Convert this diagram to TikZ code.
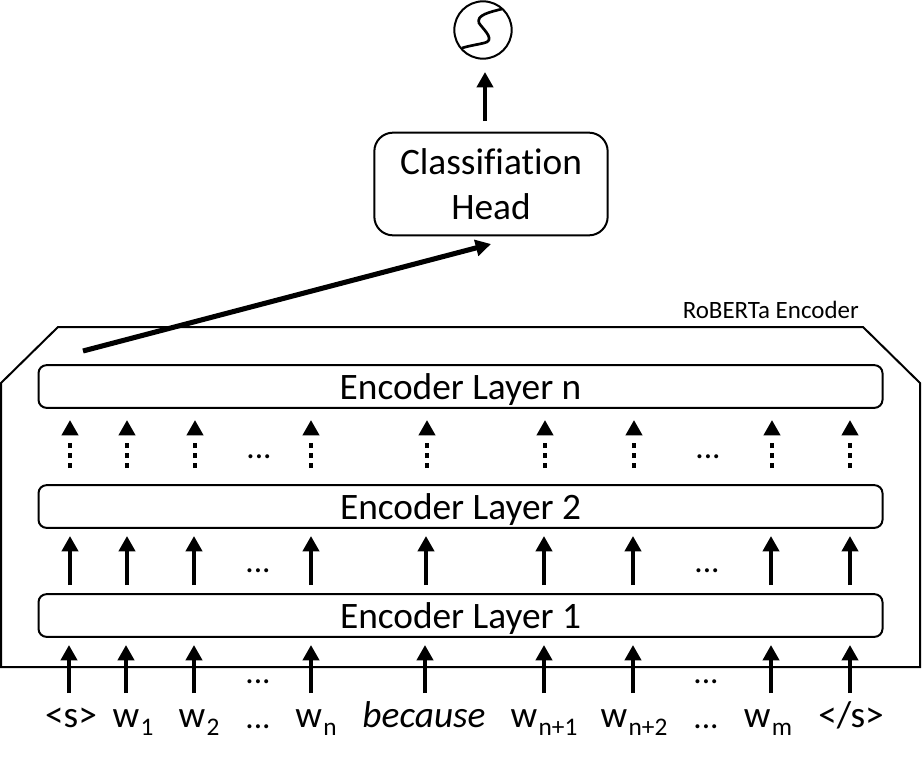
\documentclass[tikz,border=0pt]{standalone}
\usepackage{fontspec}
\setmainfont{Carlito}[Ligatures=NoCommon]
\usetikzlibrary{arrows.meta}
\newcommand{\wsub}[1]{w\kern1pt\raisebox{-6pt}{\fontsize{19}{22}\selectfont #1}}
\tikzset{
  layerbox/.style={draw, line width=1.5pt, rounded corners=6pt, minimum width=633pt, minimum height=32pt, text height=21.5pt, text depth=2.5pt, inner ysep=0pt, font=\fontsize{28}{30}\selectfont},
  headbox/.style={draw, line width=1.5pt, rounded corners=14pt, minimum width=175pt, minimum height=77pt, align=center, font=\fontsize{28}{34}\selectfont},
  wordlabel/.style={anchor=base, font=\fontsize{28}{30}\selectfont},
  dotslabel/.style={anchor=base, font=\fontsize{25}{30}\selectfont},
  uparrow/.style={line width=3.5pt, -{Triangle[width=12pt, length=11.5pt]}},
  dotstem/.style={line width=3.6pt, dash pattern=on 3.75pt off 3.75pt}
}

\begin{document}
\begin{tikzpicture}[x=0.75pt, y=-0.75pt]
\useasboundingbox (0,0) rectangle (924,760);

% Encoder outline
\draw[line width=1.5pt] (1,667) -- (1,383) -- (58,327) -- (863,327) -- (920,383) -- (920,667) -- cycle;
\node[anchor=base east, inner sep=0pt, font=\fontsize{18.7}{21}\selectfont] (encname) at (859,318) {RoBERTa Encoder};

% Layers
\node[layerbox] (layern) at (460.5,386.5) {Encoder Layer n};
\node[layerbox] (layer2) at (460.5,506.5) {Encoder Layer 2};
\node[layerbox] (layer1) at (460.5,615.5) {Encoder Layer 1};

% Head and output
\node[headbox] (head) at (491,184) {Classifiation\\Head};
\node[circle, draw, line width=1.5pt, minimum size=43pt, inner sep=0pt] (sigmoid) at (483,30) {};
\draw[line width=2pt] (462,48) .. controls (472,45) and (482,44) .. (487,42)
  .. controls (494,38) and (482,28) .. (479,23) .. controls (476,15) and (490,12) .. (502,9);

\coordinate (headout) at (485,121);
\coordinate (sigmoidin) at (485,72);
\draw[uparrow] (headout) -- (sigmoidin);
\coordinate (clsstart) at (83,351);
\coordinate (clsend) at (491,244);
\draw[uparrow, line width=3.8pt] (clsstart) -- (clsend);

% Input arrows
\foreach \i/\x in {a/69,b/126,c/194,d/311,e/425,f/544,g/633,h/771,j/850}{
  \coordinate (in\i) at (\x,693);
  \coordinate (out\i) at (\x,645);
  \draw[uparrow] (in\i) -- (out\i);
}
% Layer 1 to layer 2
\foreach \i/\x in {a/70,b/127,c/194,d/311,e/426,f/544,g/633,h/771,j/850}{
  \coordinate (low\i) at (\x,585);
  \coordinate (up\i) at (\x,536);
  \draw[uparrow] (low\i) -- (up\i);
}
% Layer 2 to layer n
\foreach \i/\x in {a/70,b/127,c/195,d/311,e/427,f/545,g/634,h/772,j/850}{
  \coordinate (dlow\i) at (\x,468);
  \coordinate (dtop\i) at (\x,443);
  \coordinate (dbase\i) at (\x,435);
  \coordinate (dup\i) at (\x,420);
  \draw[dotstem] (dlow\i) -- (dtop\i);
  \draw[uparrow] (dbase\i) -- (dup\i);
}

% Dots between arrows
\foreach \i/\x/\y in {a/258/683,b/706/683,c/258/572,d/707/572,e/259/458,f/708/458,g/258/728,h/706/728}{
  \node[dotslabel] (dots\i) at (\x,\y) {...};
}

% Words
\node[wordlabel] (start) at (71,727) {<s>};
\node[wordlabel] (w1) at (133,727) {\wsub{1}};
\node[wordlabel] (w2) at (199,727) {\wsub{2}};
\node[wordlabel] (wn) at (316,727) {\wsub{n}};
\node[wordlabel] (because) at (424,727) {\textit{because}};
\node[wordlabel] (wna) at (544,727) {\wsub{n+1}};
\node[wordlabel] (wnb) at (634,727) {\wsub{n+2}};
\node[wordlabel] (wm) at (768,727) {\wsub{m}};
\node[wordlabel] (stop) at (851,727) {</s>};
\end{tikzpicture}
\end{document}
